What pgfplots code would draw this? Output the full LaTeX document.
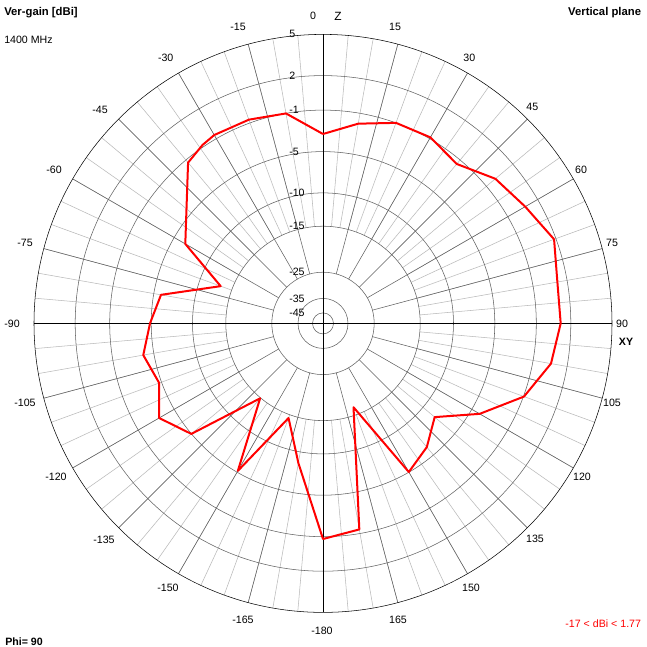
\documentclass[border=0pt]{standalone}
\usepackage{fontspec}
\setmainfont{Liberation Sans}
\usepackage{pgfplots}
\usepackage{pgfplotstable}
\pgfplotsset{compat=1.18}
\usetikzlibrary{backgrounds}

\definecolor{ringgray}{RGB}{96,96,96}
\definecolor{spokelight}{RGB}{185,185,185}

% vertical-plane gain: compass angle (deg, 0 = Z, clockwise) and radius on the plot scale
\pgfplotstableread{
theta r
0   189.4
10  202.8
20  213.4
30  214.8
40  208.1
50  225.0
60  233.5
70  245.9
80  238.0
90  237.7
100 231.5
110 213.9
120 180.9
130 145.8
140 161.5
150 171.6
160 89.2
170 209.2
180 215.6
190 141.8
200 100.7
210 170.3
220 97.8
230 171.9
240 189.2
250 174.3
260 182.5
270 173.0
280 164.5
290 108.9
300 159.0
310 178.2
320 209.9
326 215.3
330 217.5
340 216.8
350 213.2
360 189.4
}\gaindata

\begin{document}
\begin{tikzpicture}[font=\fontsize{8}{9.6}\selectfont]
\begin{axis}[
  width=485.25bp, height=485.25bp, scale only axis,
  xmin=-323, xmax=324, ymin=-323.6, ymax=323.4,
  hide axis, clip=false,
]
\coordinate (SW) at (axis cs:-323,-323.6);
\coordinate (NE) at (axis cs:324,323.4);
\coordinate (C) at (axis cs:0,0);

\addplot[red,line width=1.5bp,no markers,line join=round]
  table[x expr={\thisrow{r}*sin(\thisrow{theta})}, y expr={\thisrow{r}*cos(\thisrow{theta})}] {\gaindata};

% ring labels
\node[anchor=west,inner sep=0pt] at (axis cs:-34,289) {5};
\node[anchor=west,inner sep=0pt] at (axis cs:-34,247.8) {2};
\node[anchor=west,inner sep=0pt] at (axis cs:-34,213.3) {-1};
\node[anchor=west,inner sep=0pt] at (axis cs:-34,171.8) {-5};
\node[anchor=west,inner sep=0pt] at (axis cs:-34,130.5) {-10};
\node[anchor=west,inner sep=0pt] at (axis cs:-34,97.2) {-15};
\node[anchor=west,inner sep=0pt] at (axis cs:-34,51.2) {-25};
\node[anchor=west,inner sep=0pt] at (axis cs:-34,25) {-35};
\node[anchor=west,inner sep=0pt] at (axis cs:-34,10.5) {-45};

% angle labels
\node[inner sep=0pt] at (axis cs:-10,307.4) {0};
\node[inner sep=0pt] at (axis cs:15,307.4) {\fontsize{9}{10}\selectfont Z};
\node[inner sep=0pt] at (axis cs:72,296.4) {15};
\node[inner sep=0pt] at (axis cs:146.3,265.7) {30};
\node[inner sep=0pt] at (axis cs:209.3,216.7) {45};
\node[inner sep=0pt] at (axis cs:258,153.4) {60};
\node[inner sep=0pt] at (axis cs:289,80.4) {75};
\node[inner sep=0pt] at (axis cs:299,-0.6) {90};
\node[inner sep=0pt] at (axis cs:303,-18.6) {\bfseries XY};
\node[inner sep=0pt] at (axis cs:289,-79.6) {105};
\node[inner sep=0pt] at (axis cs:259,-153.6) {120};
\node[inner sep=0pt] at (axis cs:212,-215.9) {135};
\node[inner sep=0pt] at (axis cs:148,-264.6) {150};
\node[inner sep=0pt] at (axis cs:75,-296.6) {165};
\node[inner sep=0pt] at (axis cs:-1,-307.6) {-180};
\node[inner sep=0pt] at (axis cs:-80,-296.6) {-165};
\node[inner sep=0pt] at (axis cs:-155,-264.6) {-150};
\node[inner sep=0pt] at (axis cs:-219,-216.6) {-135};
\node[inner sep=0pt] at (axis cs:-267,-153.6) {-120};
\node[inner sep=0pt] at (axis cs:-298,-79.6) {-105};
\node[inner sep=0pt] at (axis cs:-311,0) {-90};
\node[inner sep=0pt] at (axis cs:-298,80.4) {-75};
\node[inner sep=0pt] at (axis cs:-269,153.4) {-60};
\node[inner sep=0pt] at (axis cs:-223,213.4) {-45};
\node[inner sep=0pt] at (axis cs:-157.3,265.1) {-30};
\node[inner sep=0pt] at (axis cs:-85,296.4) {-15};

% corner texts
\node[anchor=west,inner sep=0pt] at (axis cs:-319,311.1) {\fontsize{8.5}{10}\selectfont\bfseries Ver-gain [dBi]};
\node[anchor=west,inner sep=0pt] at (axis cs:-319,283.1) {1400 MHz};
\node[anchor=east,inner sep=0pt] at (axis cs:318.3,311.1) {\fontsize{8.5}{10}\selectfont\bfseries Vertical plane};
\node[anchor=east,inner sep=0pt,text=red] at (axis cs:318.3,-300.6) {-17 < dBi < 1.77};
\node[anchor=west,inner sep=0pt] at (axis cs:-318,-318.6) {\bfseries Phi= 90};
\end{axis}

% polar grid, behind the pattern
\begin{scope}[on background layer, shift={(C)}, x=0.75bp, y=0.75bp, line width=0.8bp]
  \fill[white] (-323,-323.6) rectangle (324,323.4);
  \foreach \a in {0,5,...,355} \draw[spokelight] (90-\a:97.2) -- (90-\a:289);
  \foreach \a in {0,15,...,345} \draw[ringgray] (90-\a:51.2) -- (90-\a:289);
  \foreach \rr in {10.5,25,51.2,97.2,130.5,171.8,213.3,247.8} \draw[ringgray] (0,0) circle[radius=\rr];
  \draw[black] (-289,0) -- (289,0);
  \draw[black] (0,-289) -- (0,289);
  \draw[black] (0,0) circle[radius=289];
\end{scope}
\pgfresetboundingbox
\useasboundingbox (SW) rectangle (NE);
\end{tikzpicture}
\end{document}
